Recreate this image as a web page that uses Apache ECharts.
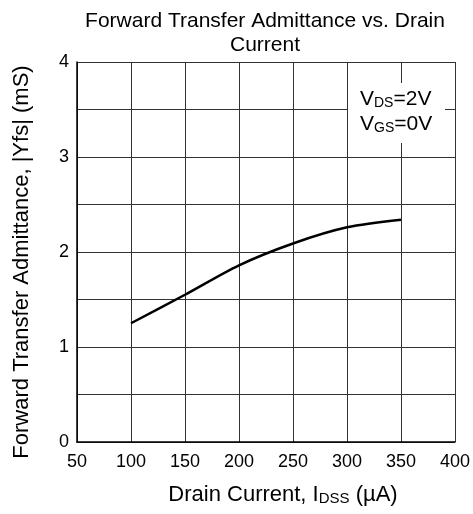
<!DOCTYPE html>
<html><head><meta charset="utf-8">
<script src="https://cdn.jsdelivr.net/npm/echarts@6/dist/echarts.min.js"></script>
<style>html,body{margin:0;padding:0;background:#fff}#c{width:473px;height:514px}</style>
</head><body><div id="c"></div>
<script>
const currentUA = [100, 150, 200, 250, 300, 350];
const admittance = [1.25, 1.55, 1.86, 2.09, 2.26, 2.34];
const xTicks = [50, 100, 150, 200, 250, 300, 350, 400];
const yTicks = [0, 1, 2, 3, 4];

const F = 'Liberation Sans, Arial, sans-serif';
const chart = echarts.init(document.getElementById('c'), null, {renderer: 'canvas'});
chart.setOption({
  animation: false,
  backgroundColor: '#fff',
  title: {
    text: 'Forward Transfer Admittance vs. Drain\nCurrent',
    left: 260, top: 4, textAlign: 'center',
    textStyle: {fontFamily: F, fontSize: 21, fontWeight: 'normal', color: '#000', lineHeight: 24}
  },
  grid: {left: 77, right: 16, top: 62, bottom: 72, show: false},
  xAxis: {
    type: 'value', min: 50, max: 400, interval: 50,
    name: 'Drain Current, I{s|DSS} (µA)', nameLocation: 'middle', nameGap: 42,
    nameTextStyle: {fontFamily: F, fontSize: 22, color: '#000', padding: [0, 0, 0, 34],
      rich: {s: {fontFamily: F, fontSize: 15, color: '#000', padding: [7,0,0,0]}}},
    axisLine: {show: true, lineStyle: {color: '#000', width: 1.5}},
    axisTick: {show: false},
    axisLabel: {fontFamily: F, fontSize: 18, color: '#000', margin: 11},
    splitLine: {show: true, lineStyle: {color: '#333', width: 1}}
  },
  yAxis: {
    type: 'value', min: 0, max: 4, interval: 0.5,
    name: 'Forward Transfer Admittance, |Yfs| (mS)', nameLocation: 'middle', nameGap: 44, nameRotate: 90,
    nameTextStyle: {fontFamily: F, fontSize: 22, color: '#000', padding: [0, 20, 0, 0]},
    axisLine: {show: true, lineStyle: {color: '#000', width: 1.5}},
    axisTick: {show: false},
    axisLabel: {fontFamily: F, fontSize: 18, color: '#000', margin: 8,
      formatter: v => (yTicks.indexOf(v) >= 0 ? String(v) : '')},
    splitLine: {show: true, lineStyle: {color: '#333', width: 1}}
  },
  graphic: [
    {type: 'rect', shape: {x: 348, y: 83, width: 97, height: 60}, style: {fill: '#fff'}, z: 10},
    {type: 'text', x: 360, y: 87, z: 11, style: {
      text: 'V{s|DS}=2V\nV{s|GS}=0V', font: '21px ' + F, fill: '#000', lineHeight: 25,
      rich: {s: {fontSize: 14, fontFamily: F, fill: '#000', padding: [7,0,0,0]}}
    }}
  ],
  series: [{
    type: 'line', data: currentUA.map((x, i) => [x, admittance[i]]),
    smooth: 0.3, showSymbol: false, lineStyle: {color: '#000', width: 2.5}, z: 20
  }]
});
</script></body></html>
